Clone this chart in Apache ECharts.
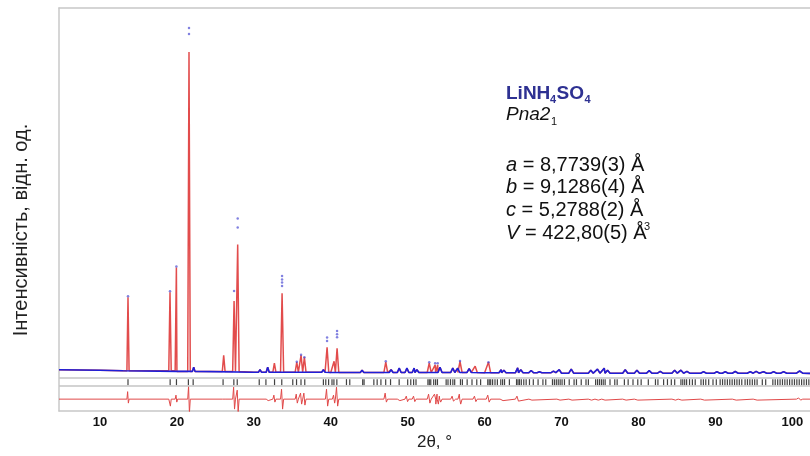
<!DOCTYPE html>
<html><head><meta charset="utf-8">
<script src="https://cdn.jsdelivr.net/npm/echarts@6/dist/echarts.min.js"></script>
<style>html,body{margin:0;padding:0;background:#fff}#c{width:810px;height:456px}</style>
</head><body><div id="c"></div>
<script>
// ---- data ----
const xTickLabels = [10, 20, 30, 40, 50, 60, 70, 80, 90, 100];
// background of the pattern [2θ, intensity]
const background = [[4.67, 25], [10, 20], [13, 15], [20, 8], [30, 0], [40, -3], [60, -5], [70, -10], [102.3, -12]];
// calculated peaks: position (2θ) and top intensity
const peakPos = [13.64,19.10,19.93,21.57,22.18,26.08,27.43,27.90,30.80,31.80,32.67,33.67,35.58,36.14,36.57,39.04,39.52,40.43,40.82,44.07,45.60,47.15,47.85,48.90,49.90,50.84,51.20,52.80,53.57,53.90,54.20,55.86,56.50,56.80,57.99,58.77,60.50,62.15,62.50,64.30,64.70,66.05,67.13,68.95,69.70,71.26,73.80,74.67,75.55,75.98,78.28,79.80,81.40,82.83,84.70,85.52,86.30,88.46,90.20,91.28,92.58,94.53,95.30,96.27,97.57,98.87,100.95];
const peakCalc = [750,800,1050,3210,50,170,713,1280,25,50,90,790,100,170,150,25,250,110,240,20,15,100,25,40,40,40,25,90,73,73,50,40,40,107,35,60,100,25,20,43,25,17,5,10,25,30,20,30,40,20,25,20,15,8,20,20,8,5,5,5,7,5,8,5,5,5,12];
// observed points visible above/at peak tops
const obsDots = [[13.64,760],[19.10,810],[19.93,1060],[21.57,3450],[21.57,3390],[27.43,813],[27.90,1540],[27.90,1450],[33.67,963],[33.67,930],[33.67,900],[33.67,863],[35.58,105],[36.14,175],[36.57,150],[39.52,347],[39.52,313],[40.82,413],[40.82,380],[40.82,350],[47.15,110],[52.80,100],[53.57,90],[53.90,90],[56.80,112],[60.50,100]];
// difference curve spikes
const diffBase = -270;
const diffPos = [13.64,19.10,19.93,21.57,26.08,27.43,27.90,31.80,32.67,33.67,35.58,36.14,36.57,39.52,40.43,40.82,47.15,48.90,49.90,50.84,52.80,53.57,53.90,54.20,55.86,56.50,56.80,58.77,60.50,62.30,64.30,66.05,69.70,71.26,73.80,74.67,75.55,78.28,79.80,84.70,85.52,88.46,92.58,95.30,100.95];
const diffUp = [75,20,40,130,20,120,90,15,40,100,50,60,60,100,40,120,60,15,30,30,50,50,50,30,30,20,50,30,40,15,30,12,12,12,12,12,12,12,12,12,12,10,10,10,12];
const diffDown = [40,70,30,140,20,100,130,15,30,100,40,50,60,70,40,70,30,15,25,25,40,50,50,30,20,20,50,25,30,15,20,10,10,10,10,10,10,10,10,10,10,10,10,10,10];
// Bragg reflection positions (2θ)
const braggPos = [13.64,19.12,19.94,21.49,22.11,26.0,27.4,27.84,30.7,31.57,32.69,33.63,35.06,35.55,36.13,36.62,39.04,39.35,39.72,40.16,40.41,40.79,42.04,42.47,44.15,44.33,45.6,46.03,46.52,47.14,47.77,48.89,50.0,50.4,50.77,51.08,
52.63,52.81,53.0,53.38,53.63,53.87,55.0,55.24,55.56,55.87,56.11,56.86,57.11,57.73,58.36,58.98,59.48,60.41,60.6,60.79,61.04,61.35,61.66,62.1,62.34,62.59,63.22,64.15,64.34,64.53,64.77,65.09,65.4,65.83,66.33,66.95,67.58,67.95,
68.82,69.07,69.32,69.57,69.82,70.07,70.38,71.0,71.63,71.94,72.56,73.18,73.49,74.43,74.68,74.93,75.18,75.42,75.67,76.3,76.92,77.23,78.17,78.66,79.29,79.91,80.35,81.28,82.21,82.53,83.27,83.77,84.27,84.71,
85.52,85.76,86.01,86.26,86.64,87.01,87.38,88.13,88.44,88.75,89.13,89.69,90.12,90.62,90.93,91.24,91.56,91.87,92.18,92.49,92.8,93.11,93.43,93.86,94.17,94.48,94.8,95.11,95.42,96.1,96.54,
97.47,97.78,98.1,98.41,98.72,99.03,99.34,99.65,99.97,100.28,100.59,100.9,101.21,101.52,101.84,102.15];

// ---- build series data ----
const XMIN = 4.67, XMAX = 102.3;
function bgAt(x) { let v = background[0][1]; for (const k of background) { if (k[0] <= x) v = k[1]; } return v; }
function hw(x) { return 0.1 + 0.003 * x; }
const calcPts = background.map(p => p.slice());
const obsPts = background.map(p => p.slice());
peakPos.forEach((p, i) => {
  const b = bgAt(p), w = hw(p);
  const tri = [[p - w, b], [p, peakCalc[i]], [p + w, b]];
  calcPts.push(...tri);
  if (peakCalc[i] - b < 55) obsPts.push(...tri);
});
calcPts.sort((a, b) => a[0] - b[0]);
obsPts.sort((a, b) => a[0] - b[0]);
const diffPts = [[XMIN, diffBase], [XMAX, diffBase]];
diffPos.forEach((p, i) => {
  const w = hw(p);
  diffPts.push([p - w, diffBase], [p - w / 3, diffBase + diffUp[i]], [p + w / 3, diffBase - diffDown[i]], [p + w, diffBase]);
});
diffPts.sort((a, b) => a[0] - b[0]);
const braggData = braggPos.map(p => [p, -100]);

const FONT = 'Liberation Sans, Arial, sans-serif';
const FRAME = { show: true, onZero: false, lineStyle: { color: '#c8c8c8', width: 1.5 } };
function txt(x, y, text, font, fill, extra) {
  return { type: 'text', x: x, y: y, style: Object.assign({ text: text, font: font + ' ' + FONT, fill: fill, textAlign: 'left', textVerticalAlign: 'middle' }, extra || {}) };
}
const richI = { i: { fontStyle: 'italic', fontSize: 20, fontFamily: FONT, fill: '#111' } };
const chart = echarts.init(document.getElementById('c'), null, { renderer: 'canvas' });
chart.setOption({
  animation: false,
  backgroundColor: '#fff',
  grid: { left: 59, right: 0, top: 8, bottom: 44 },
  xAxis: [{
    type: 'value', min: XMIN, max: XMAX, position: 'bottom',
    axisLine: FRAME, axisTick: { show: false }, splitLine: { show: false },
    axisLabel: { customValues: xTickLabels, fontWeight: 'bold', fontSize: 13, color: '#111', margin: 5, fontFamily: FONT },
    name: '2θ, °', nameLocation: 'middle', nameGap: 20,
    nameTextStyle: { fontSize: 17, color: '#222', fontFamily: FONT }
  }, {
    type: 'value', min: XMIN, max: XMAX, position: 'top',
    axisLine: FRAME, axisTick: { show: false }, splitLine: { show: false }, axisLabel: { show: false }
  }],
  yAxis: {
    type: 'value', min: -390, max: 3650,
    axisLine: FRAME, axisTick: { show: false }, splitLine: { show: false }, axisLabel: { show: false }
  },
  series: [
    { name: 'calc', type: 'line', data: calcPts, showSymbol: false, z: 2,
      lineStyle: { color: '#e24c4c', width: 1.5 } },
    { name: 'obs', type: 'line', data: obsPts, showSymbol: false, z: 3,
      lineStyle: { color: '#1f1fd8', width: 1.6 } },
    { name: 'obsDots', type: 'scatter', data: obsDots, symbol: 'circle', symbolSize: 2.5, z: 4,
      itemStyle: { color: 'rgba(70,70,210,0.85)' } },
    { name: 'bragg', type: 'scatter', data: braggData, symbol: 'rect', symbolSize: [1.2, 6], z: 3,
      itemStyle: { color: '#111' },
      markLine: { silent: true, symbol: 'none', label: { show: false },
        lineStyle: { color: '#c4c4c4', width: 1.5, type: 'solid' },
        data: [{ yAxis: -60 }, { yAxis: -140 }] } },
    { name: 'diff', type: 'line', data: diffPts, showSymbol: false, z: 2,
      lineStyle: { color: '#e04848', width: 1 } }
  ],
  graphic: [
    { type: 'text', x: 21, y: 230, rotation: Math.PI / 2,
      style: { text: 'Інтенсивність, відн. од.', font: '20px ' + FONT, fill: '#222', textAlign: 'center', textVerticalAlign: 'middle' } },
    txt(506, 94, 'LiNH', 'bold 19px', '#2e3192'),
    txt(550, 100, '4', 'bold 11px', '#2e3192'),
    txt(556.5, 94, 'SO', 'bold 19px', '#2e3192'),
    txt(584.5, 100, '4', 'bold 11px', '#2e3192'),
    txt(506, 115, 'Pna2', 'italic 19px', '#111'),
    txt(551, 122, '1', '11px', '#111'),
    txt(506, 165, '{i|a} = 8,7739(3) Å', '20px', '#111', { rich: richI }),
    txt(506, 187, '{i|b} = 9,1286(4) Å', '20px', '#111', { rich: richI }),
    txt(506, 210, '{i|c} = 5,2788(2) Å', '20px', '#111', { rich: richI }),
    txt(506, 233, '{i|V} = 422,80(5) Å', '20px', '#111', { rich: richI }),
    txt(644, 227, '3', '11px', '#111')
  ]
});
</script>
</body></html>
